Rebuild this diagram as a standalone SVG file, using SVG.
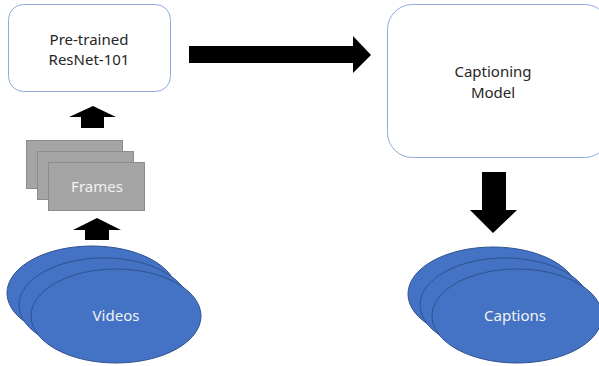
<svg xmlns="http://www.w3.org/2000/svg" width="599" height="366" viewBox="0 0 599 366">
<style>
.box{fill:#ffffff;stroke:#8FAADC;stroke-width:1}
.frame{fill:#A5A5A5;stroke:#8C8C8C;stroke-width:1}
.ell{fill:#4472C4;stroke:#2F528F;stroke-width:1}
.arrow{fill:#000000}
.t{font-family:"Noto Sans","Liberation Sans",sans-serif;font-size:15px;text-anchor:middle}
.dark{fill:#262626}
.light{fill:#F2F2F2}
</style>
<rect width="599" height="366" fill="#ffffff"/>
<g id="resnet">
<rect class="box" x="8.5" y="4.5" width="162" height="87" rx="15"/>
<text class="t dark" x="89" y="45">Pre-trained</text>
<text class="t dark" x="89" y="65">ResNet-101</text>
</g>
<g id="captioning-model">
<rect class="box" x="387.5" y="4.5" width="222" height="153" rx="25"/>
<text class="t dark" x="493" y="77">Captioning</text>
<text class="t dark" x="493" y="98">Model</text>
</g>
<g id="frames">
<rect class="frame" x="26.5" y="140.5" width="96" height="48"/>
<rect class="frame" x="37.5" y="151.5" width="96" height="48"/>
<rect class="frame" x="48.5" y="162.5" width="96" height="48"/>
<text class="t light" x="97" y="192">Frames</text>
</g>
<g id="videos">
<ellipse class="ell" cx="92" cy="293" rx="85" ry="47"/>
<ellipse class="ell" cx="104" cy="305" rx="85" ry="47"/>
<ellipse class="ell" cx="116" cy="316" rx="85" ry="47"/>
<text class="t light" x="116" y="321">Videos</text>
</g>
<g id="captions">
<ellipse class="ell" cx="493" cy="294" rx="85" ry="47"/>
<ellipse class="ell" cx="505" cy="305" rx="85" ry="47"/>
<ellipse class="ell" cx="517" cy="316" rx="85" ry="47"/>
<text class="t light" x="515" y="321">Captions</text>
</g>
<g id="connectors">
<polygon class="arrow" points="189,46 353,46 353,36 371,55 353,73 353,63 189,63"/>
<polygon class="arrow" points="81,128 81,117 69,117 93,106 116,117 104,117 104,128"/>
<polygon class="arrow" points="85,240 85,230 73,230 97,218 121,230 109,230 109,240"/>
<polygon class="arrow" points="482,172 506,172 506,210 517,210 493,233 470,210 482,210"/>
</g>
</svg>
